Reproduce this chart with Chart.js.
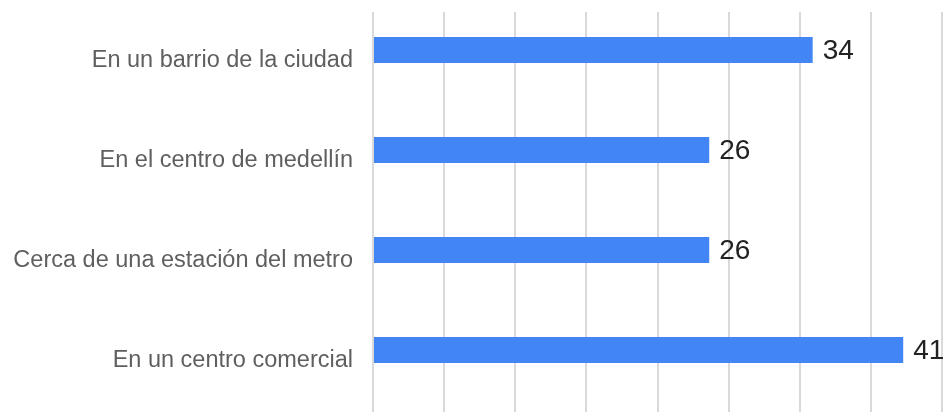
<!DOCTYPE html>
<html>
<head>
<meta charset="utf-8">
<script src="https://cdn.jsdelivr.net/npm/chart.js@4/dist/chart.umd.min.js"></script>
<style>
  html, body { margin: 0; padding: 0; background: #fff; }
  #wrap { width: 944px; height: 412px; position: relative; }
</style>
</head>
<body>
<div id="wrap"><canvas id="myChart"></canvas></div>
<script>
var categorias = ['En un barrio de la ciudad', 'En el centro de medellín', 'Cerca de una estación del metro', 'En un centro comercial'];
var votos = [34, 26, 26, 41];
var ejeMax = 44;
var paso = 5.5;

// gridlines start a little below the top edge
const recorte = {
  id: 'recorte',
  beforeDraw(chart) {
    const ctx = chart.ctx;
    ctx.save();
    ctx.beginPath();
    ctx.rect(0, 12, chart.width, chart.height - 12);
    ctx.clip();
  },
  afterDraw(chart) {
    chart.ctx.restore();
  }
};

// number next to the end of each bar
const etiquetas = {
  id: 'etiquetas',
  afterDatasetsDraw(chart) {
    const ctx = chart.ctx;
    const meta = chart.getDatasetMeta(0);
    ctx.save();
    ctx.font = '28px "Liberation Sans", Arial, sans-serif';
    ctx.fillStyle = '#222222';
    ctx.textAlign = 'left';
    ctx.textBaseline = 'middle';
    meta.data.forEach(function(bar, i) {
      ctx.fillText(String(chart.data.datasets[0].data[i]), bar.x + 10, bar.y + 1);
    });
    ctx.restore();
  }
};

const data = {
  labels: categorias,
  datasets: [{
    label: 'Votos',
    data: votos,
    backgroundColor: '#4285f4',
    borderWidth: 0,
    categoryPercentage: 1,
    barPercentage: 0.26
  }]
};

const config = {
  type: 'bar',
  data: data,
  options: {
    indexAxis: 'y',
    responsive: true,
    maintainAspectRatio: false,
    animation: false,
    layout: { padding: { right: 2 } },
    plugins: {
      legend: { display: false },
      tooltip: { enabled: false }
    },
    scales: {
      x: {
        min: 0,
        max: ejeMax,
        border: { display: false },
        grid: { color: '#d9d9d9', lineWidth: 2, drawTicks: true, tickLength: 12 },
        ticks: { display: false, stepSize: paso },
        afterFit: function(scale) { scale.paddingLeft = 0; scale.paddingRight = 0; }
      },
      y: {
        border: { display: false },
        grid: { display: false },
        afterFit: function(scale) {
          scale.width = 373;
          scale.paddingTop = 0;
          scale.paddingBottom = 0;
        },
        ticks: {
          color: '#5f5f5f',
          padding: 12,
          labelOffset: 11,
          font: { family: '"Liberation Sans", Arial, sans-serif', size: 23.5 }
        }
      }
    }
  },
  plugins: [recorte, etiquetas]
};

const myChart = new Chart(document.getElementById('myChart'), config);
</script>
</body>
</html>
